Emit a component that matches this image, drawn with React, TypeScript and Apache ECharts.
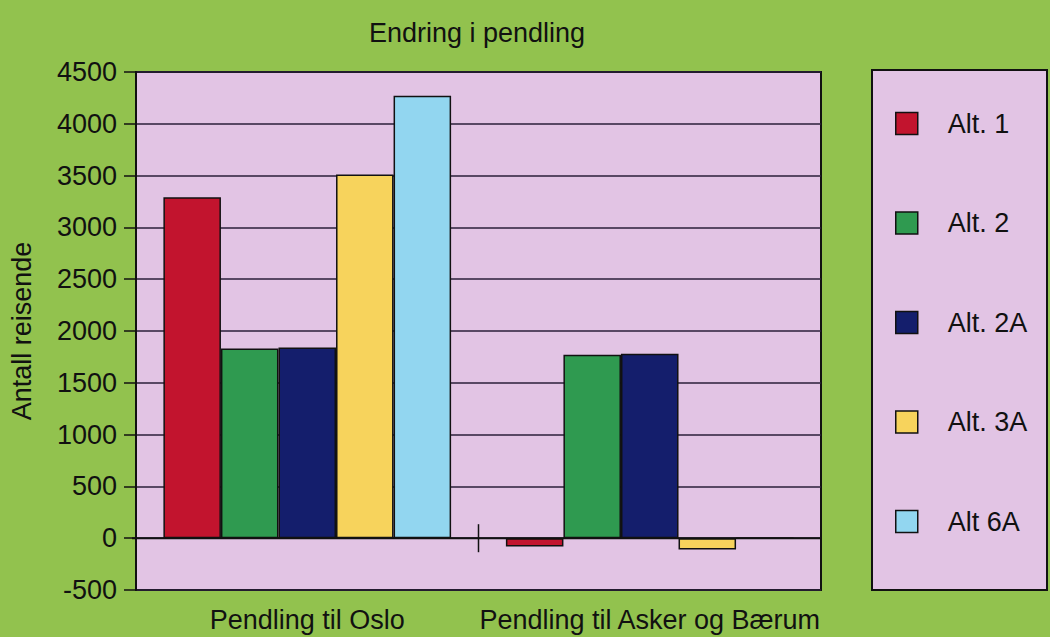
import React, { useEffect, useRef } from "react";
import * as echarts from "echarts";

const categories = ["Pendling til Oslo", "Pendling til Asker og Bærum"];
const seriesNames = ["Alt. 1", "Alt. 2", "Alt. 2A", "Alt. 3A", "Alt 6A"];
const alt1 = [3290, -80];
const alt2 = [1830, 1770];
const alt2A = [1840, 1780];
const alt3A = [3510, -110];
const alt6A = [4270, 0];
const seriesColors = ["#c2142e", "#2f9a50", "#141e6c", "#f7d35c", "#92d6f0"];

const FONT = "'Liberation Sans', Arial, Helvetica, sans-serif";
const W = 1050;
const H = 637;
const GRID = { left: 132, right: 229, top: 72, bottom: 47 };

export default function App() {
  const ref = useRef<HTMLDivElement>(null);
  useEffect(() => {
    if (!ref.current) return;
    const chart = echarts.init(ref.current, undefined, { renderer: "svg" });
    const values = [alt1, alt2, alt2A, alt3A, alt6A];
    chart.setOption({
      animation: false,
      backgroundColor: "#92c24e",
      textStyle: { fontFamily: FONT },
      graphic: [
        {
          id: "legendBox",
          type: "rect",
          z: 0,
          shape: { x: 872, y: 70, width: 175, height: 520 },
          style: { fill: "#e2c4e4", stroke: "#111", lineWidth: 2 },
        },
        {
          id: "title",
          type: "text",
          x: 477,
          y: 33,
          style: {
            text: "Endring i pendling",
            textAlign: "center",
            textVerticalAlign: "middle",
            font: `27px ${FONT}`,
            fill: "#111",
          },
        },
      ],
      legend: {
        orient: "vertical",
        left: 895,
        top: 110,
        padding: 0,
        itemWidth: 22,
        itemHeight: 22,
        itemGap: 72.5,
        icon: "rect",
        data: seriesNames,
        textStyle: {
          fontSize: 27,
          lineHeight: 22,
          color: "#111",
          fontFamily: FONT,
          padding: [0, 0, 0, 25],
        },
        itemStyle: { borderColor: "#111", borderWidth: 1.5 },
      },
      grid: {
        ...GRID,
        show: true,
        backgroundColor: "#e2c4e4",
        borderColor: "#111",
        borderWidth: 2,
      },
      xAxis: [
        {
          type: "category",
          data: categories,
          position: "bottom",
          axisLine: { show: false, onZero: false },
          axisTick: { show: false },
          axisLabel: { fontSize: 27, color: "#111", margin: 16, fontFamily: FONT, interval: 0 },
        },
      ],
      yAxis: {
        type: "value",
        min: -500,
        max: 4500,
        interval: 500,
        name: "Antall reisende",
        nameLocation: "middle",
        nameRotate: 90,
        nameGap: 101,
        nameTextStyle: { fontSize: 27, color: "#111", fontFamily: FONT },
        axisLine: { show: true, lineStyle: { color: "#111", width: 2 } },
        axisTick: { show: true, length: 12, lineStyle: { color: "#111", width: 1.5 } },
        axisLabel: {
          fontSize: 27,
          color: "#111",
          margin: 19,
          fontFamily: FONT,
          formatter: (v: number) => String(v),
        },
        splitLine: { show: true, lineStyle: { color: "#2a1f3a", width: 1.5 } },
      },
      series: seriesNames.map((name, i) => ({
        name,
        type: "bar",
        xAxisIndex: 0,
        data: values[i],
        barGap: "0%",
        barCategoryGap: "16%",
        itemStyle: { color: seriesColors[i], borderColor: "#111", borderWidth: 1.5 },
        z: 3,
      })),
    });
    // zero line and category boundary tick, placed via the chart's own scales
    const x0 = chart.convertToPixel({ xAxisIndex: 0 }, categories[0]) as number;
    const x1 = chart.convertToPixel({ xAxisIndex: 0 }, categories[1]) as number;
    const y0 = chart.convertToPixel({ yAxisIndex: 0 }, 0) as number;
    const xb = (x0 + x1) / 2;
    chart.setOption({
      graphic: [
        {
          id: "zeroLine",
          type: "line",
          z: 2,
          shape: { x1: GRID.left, y1: y0, x2: W - GRID.right, y2: y0 },
          style: { stroke: "#111", lineWidth: 2 },
        },
        {
          id: "midTick",
          type: "line",
          z: 10,
          shape: { x1: xb, y1: y0 - 14, x2: xb, y2: y0 + 14 },
          style: { stroke: "#111", lineWidth: 1.5 },
        },
      ],
    });
    return () => chart.dispose();
  }, []);
  return (
    <div
      ref={ref}
      style={{ position: "fixed", left: 0, top: 0, width: W, height: H }}
    />
  );
}
